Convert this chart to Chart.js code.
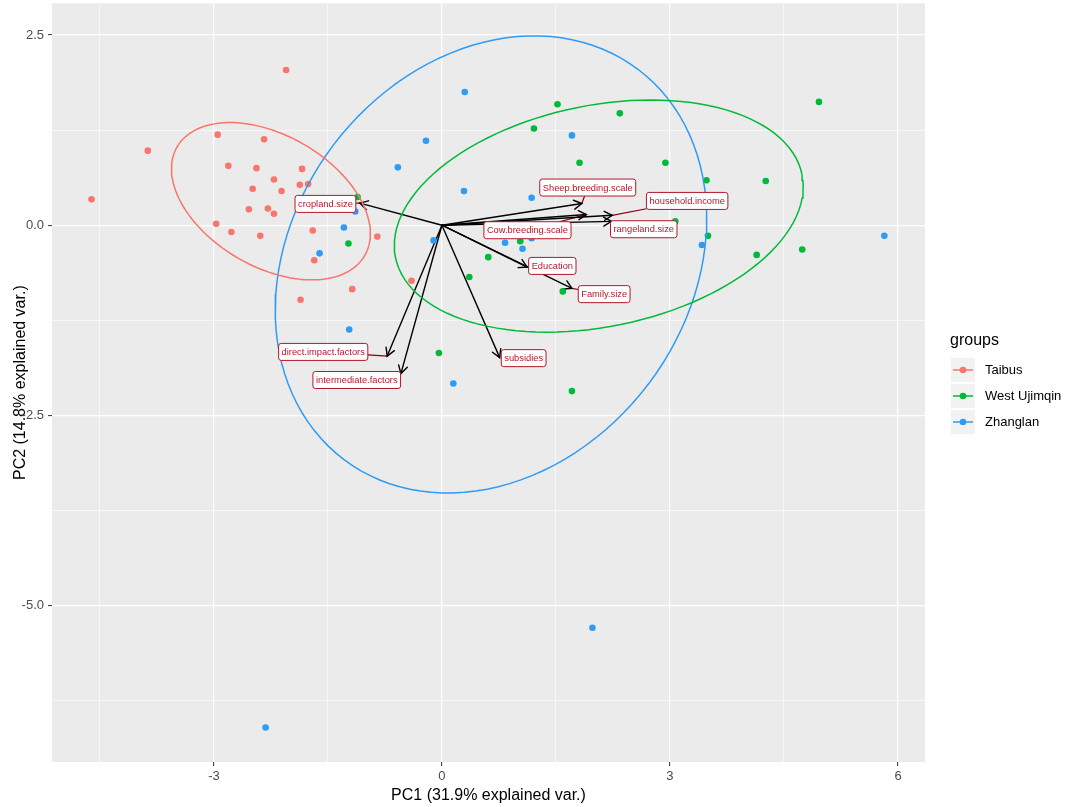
<!DOCTYPE html>
<html>
<head>
<meta charset="utf-8">
<script src="https://cdn.jsdelivr.net/npm/chart.js@4.4.1/dist/chart.umd.min.js"></script>
<style>
  html, body { margin: 0; padding: 0; background: #ffffff; }
</style>
</head>
<body>
<canvas id="pcaChart" width="1065" height="807"></canvas>
<script>
// PCA biplot: individual scores by region, loadings drawn as arrows
const groupNames = ['Taibus', 'West Ujimqin', 'Zhanglan'];
const groupColors = ['#F8766D', '#00BA38', '#2E9BF5'];

const taibusPC1 = [-2.05, -4.61, -3.87, -2.95, -2.34, -2.81, -2.44, -1.84, -2.21, -1.87, -1.76, -2.49, -2.11,
                   -2.54, -2.29, -2.21, -2.97, -2.77, -2.39, -1.70, -1.68, -0.85, -1.18, -1.86, -0.40];
const taibusPC2 = [2.04, 0.34, 0.98, 1.19, 1.13, 0.78, 0.75, 0.74, 0.60, 0.53, 0.54, 0.48, 0.45,
                   0.21, 0.22, 0.15, 0.02, -0.09, -0.14, -0.07, -0.46, -0.15, -0.84, -0.98, -0.73];

const westPC1 = [-1.11, -1.23, 1.52, 2.34, 4.96, 1.21, 1.81, 2.94, 3.48, 4.26,
                 3.07, 3.50, 1.03, 0.61, 0.36, 1.59, 4.14, 4.74, -0.04, 1.71];
const westPC2 = [0.37, -0.24, 1.59, 1.47, 1.62, 1.27, 0.82, 0.82, 0.59, 0.58,
                 0.05, -0.14, -0.21, -0.42, -0.68, -0.87, -0.39, -0.32, -1.68, -2.18];

const zhanglanPC1 = [-0.21, -0.58, -1.14, -1.29, -1.61, -0.11, 0.30, 1.71, 0.29, 1.18,
                     0.83, 1.06, 1.18, 3.42, 5.82, -1.22, 0.15, 1.98, -2.32];
const zhanglanPC2 = [1.11, 0.76, 0.18, -0.03, -0.37, -0.20, 1.75, 1.18, 0.45, 0.36,
                     -0.23, -0.31, -0.17, -0.26, -0.14, -1.37, -2.08, -5.29, -6.60];

// normal-probability ellipses per group (centre, semi-axes, rotation in degrees)
const ellipseCenterPC1 = [-2.25, 2.063, 0.645];
const ellipseCenterPC2 = [0.315, 0.12, -0.516];
const ellipseMajor = [1.426, 2.729, 3.212];
const ellipseMinor = [0.864, 1.454, 2.60];
const ellipseAngle = [-30, 11.5, 52.9];

// variable loadings (arrow tips) and where the repelled labels ended up
const varNames = ['cropland.size', 'Sheep.breeding.scale', 'Cow.breeding.scale', 'household.income',
                  'rangeland.size', 'Education', 'Family.size', 'subsidies',
                  'direct.impact.factors', 'intermediate.factors'];
const varPC1 = [-1.08, 1.84, 1.90, 2.24, 2.23, 1.12, 1.71, 0.76, -0.72, -0.54];
const varPC2 = [0.29, 0.285, 0.14, 0.13, 0.05, -0.55, -0.83, -1.74, -1.72, -1.95];
const varLabelPC1 = [-1.533, 1.918, 1.125, 3.226, 2.655, 1.452, 2.134, 1.075, -1.562, -1.121];
const varLabelPC2 = [0.280, 0.495, -0.066, 0.319, -0.053, -0.535, -0.906, -1.747, -1.665, -2.034];

const xTicksMajor = [-3, 0, 3, 6];
const xTicksMinor = [-4.5, -1.5, 1.5, 4.5];
const yTicksMajor = [2.5, 0, -2.5, -5];
const yTicksMinor = [1.25, -1.25, -3.75, -6.25];

const FONT = '"Liberation Sans", Arial, Helvetica, sans-serif';
const labelColor = '#B2182B';

function toPoints(xs, ys) {
  return xs.map((v, i) => ({ x: v, y: ys[i] }));
}

function ellipsePath(k) {
  const pts = [];
  const phi = ellipseAngle[k] * Math.PI / 180;
  for (let i = 0; i <= 120; i++) {
    const t = 2 * Math.PI * i / 120;
    const ex = ellipseMajor[k] * Math.cos(t);
    const ey = ellipseMinor[k] * Math.sin(t);
    pts.push({
      x: ellipseCenterPC1[k] + ex * Math.cos(phi) - ey * Math.sin(phi),
      y: ellipseCenterPC2[k] + ex * Math.sin(phi) + ey * Math.cos(phi)
    });
  }
  return pts;
}

const groupPoints = [
  toPoints(taibusPC1, taibusPC2),
  toPoints(westPC1, westPC2),
  toPoints(zhanglanPC1, zhanglanPC2)
];

const datasets = [];
groupNames.forEach((name, k) => {
  datasets.push({
    label: name,
    data: groupPoints[k],
    showLine: false,
    pointRadius: 3.3,
    pointHoverRadius: 3.3,
    pointBorderWidth: 0,
    pointBackgroundColor: groupColors[k],
    order: 2
  });
  datasets.push({
    label: name + ' ellipse',
    data: ellipsePath(k),
    showLine: true,
    fill: false,
    tension: 0,
    pointRadius: 0,
    borderWidth: 1.5,
    borderColor: groupColors[k],
    order: 1
  });
});

function labelBox(ctx, i, xs, ys) {
  const w = ctx.measureText(varNames[i]).width + 6;
  const h = 17;
  const cx = xs.getPixelForValue(varLabelPC1[i]);
  const cy = ys.getPixelForValue(varLabelPC2[i]);
  return { cx, cy, w, h };
}

function arrowHead(ctx, x0, y0, x1, y1) {
  const ang = Math.atan2(y1 - y0, x1 - x0);
  const len = 9, spread = Math.PI / 6;
  ctx.beginPath();
  ctx.moveTo(x1 - len * Math.cos(ang - spread), y1 - len * Math.sin(ang - spread));
  ctx.lineTo(x1, y1);
  ctx.lineTo(x1 - len * Math.cos(ang + spread), y1 - len * Math.sin(ang + spread));
  ctx.stroke();
}

const biplotLayers = {
  id: 'biplotLayers',
  beforeDraw(chart) {
    const { ctx, chartArea: a } = chart;
    ctx.save();
    ctx.fillStyle = '#FFFFFF';
    ctx.fillRect(0, 0, chart.width, chart.height);
    ctx.fillStyle = '#EBEBEB';
    ctx.fillRect(a.left, a.top, a.right - a.left, a.bottom - a.top);
    ctx.restore();
  },
  beforeDatasetsDraw(chart) {
    const { ctx, scales: { x, y } } = chart;
    const ox = x.getPixelForValue(0), oy = y.getPixelForValue(0);
    ctx.save();
    ctx.font = '9.3px ' + FONT;
    // label connectors
    ctx.strokeStyle = '#8B0000';
    ctx.lineWidth = 1.2;
    varNames.forEach((n, i) => {
      const b = labelBox(ctx, i, x, y);
      const tx = x.getPixelForValue(varPC1[i]), ty = y.getPixelForValue(varPC2[i]);
      const dx = tx - b.cx, dy = ty - b.cy;
      const t = Math.min(dx ? (b.w / 2) / Math.abs(dx) : Infinity, dy ? (b.h / 2) / Math.abs(dy) : Infinity);
      if (t >= 1) return;
      const sx = b.cx + dx * t, sy = b.cy + dy * t;
      if (Math.hypot(tx - sx, ty - sy) < 3) return;
      ctx.beginPath();
      ctx.moveTo(sx, sy);
      ctx.lineTo(tx, ty);
      ctx.stroke();
    });
    // loading arrows
    ctx.strokeStyle = '#000000';
    ctx.lineWidth = 1.4;
    ctx.lineCap = 'round';
    varNames.forEach((n, i) => {
      const tx = x.getPixelForValue(varPC1[i]), ty = y.getPixelForValue(varPC2[i]);
      ctx.beginPath();
      ctx.moveTo(ox, oy);
      ctx.lineTo(tx, ty);
      ctx.stroke();
      arrowHead(ctx, ox, oy, tx, ty);
    });
    ctx.restore();
  },
  afterDatasetsDraw(chart) {
    const { ctx, scales: { x, y } } = chart;
    ctx.save();
    ctx.font = '9.3px ' + FONT;
    ctx.textBaseline = 'middle';
    ctx.textAlign = 'center';
    varNames.forEach((n, i) => {
      const b = labelBox(ctx, i, x, y);
      ctx.beginPath();
      ctx.roundRect(b.cx - b.w / 2, b.cy - b.h / 2, b.w, b.h, 2.5);
      ctx.fillStyle = '#FFFFFF';
      ctx.fill();
      ctx.strokeStyle = labelColor;
      ctx.lineWidth = 1;
      ctx.stroke();
      ctx.fillStyle = labelColor;
      ctx.fillText(n, b.cx, b.cy + 0.5);
    });
    ctx.restore();
  },
  afterDraw(chart) {
    const ctx = chart.ctx;
    ctx.save();
    ctx.fillStyle = '#000000';
    ctx.font = '16px ' + FONT;
    ctx.textBaseline = 'alphabetic';
    ctx.textAlign = 'left';
    ctx.fillText('groups', 950, 345);
    groupNames.forEach((name, k) => {
      const cy = 370 + k * 26;
      ctx.fillStyle = '#F2F2F2';
      ctx.fillRect(951, cy - 12, 24, 24);
      ctx.strokeStyle = groupColors[k];
      ctx.lineWidth = 1.5;
      ctx.beginPath();
      ctx.moveTo(953, cy);
      ctx.lineTo(973, cy);
      ctx.stroke();
      ctx.fillStyle = groupColors[k];
      ctx.beginPath();
      ctx.arc(963, cy, 3.3, 0, 2 * Math.PI);
      ctx.fill();
      ctx.fillStyle = '#000000';
      ctx.font = '13px ' + FONT;
      ctx.textBaseline = 'middle';
      ctx.fillText(name, 985, cy);
    });
    ctx.restore();
  }
};

function gridOptions(major) {
  return {
    color: '#FFFFFF',
    lineWidth: c => major.includes(c.tick.value) ? 1.2 : 0.6,
    tickColor: c => major.includes(c.tick.value) ? '#333333' : 'rgba(0,0,0,0)',
    tickLength: 4,
    tickWidth: 1
  };
}

new Chart(document.getElementById('pcaChart'), {
  type: 'scatter',
  data: { datasets },
  options: {
    responsive: false,
    animation: false,
    layout: { padding: { left: 0, right: 140, top: 3, bottom: 0 } },
    plugins: {
      legend: { display: false },
      tooltip: { enabled: false }
    },
    scales: {
      x: {
        type: 'linear',
        min: -5.13,
        max: 6.355,
        afterBuildTicks: s => {
          s.ticks = xTicksMinor.concat(xTicksMajor).sort((a, b) => a - b).map(v => ({ value: v }));
        },
        afterFit: s => { s.height = 45; s.paddingLeft = 0; s.paddingRight = 0; },
        grid: gridOptions(xTicksMajor),
        border: { display: false },
        ticks: {
          color: '#4D4D4D',
          font: { family: FONT, size: 13 },
          padding: 3,
          maxRotation: 0,
          autoSkip: false,
          callback: v => xTicksMajor.includes(v) ? String(v) : ''
        },
        title: {
          display: true,
          text: 'PC1 (31.9% explained var.)',
          color: '#000000',
          font: { family: FONT, size: 16 },
          padding: { top: 0, bottom: 2 }
        }
      },
      y: {
        type: 'linear',
        min: -7.054,
        max: 2.916,
        afterBuildTicks: s => {
          s.ticks = yTicksMinor.concat(yTicksMajor).sort((a, b) => a - b).map(v => ({ value: v }));
        },
        afterFit: s => { s.width = 52; s.paddingTop = 0; s.paddingBottom = 0; },
        grid: gridOptions(yTicksMajor),
        border: { display: false },
        ticks: {
          color: '#4D4D4D',
          font: { family: FONT, size: 13 },
          padding: 4,
          autoSkip: false,
          callback: v => yTicksMajor.includes(v) ? v.toFixed(1) : ''
        },
        title: {
          display: true,
          text: 'PC2 (14.8% explained var.)',
          color: '#000000',
          font: { family: FONT, size: 16 },
          padding: { top: 11, bottom: 0 }
        }
      }
    }
  },
  plugins: [biplotLayers]
});
</script>
</body>
</html>
